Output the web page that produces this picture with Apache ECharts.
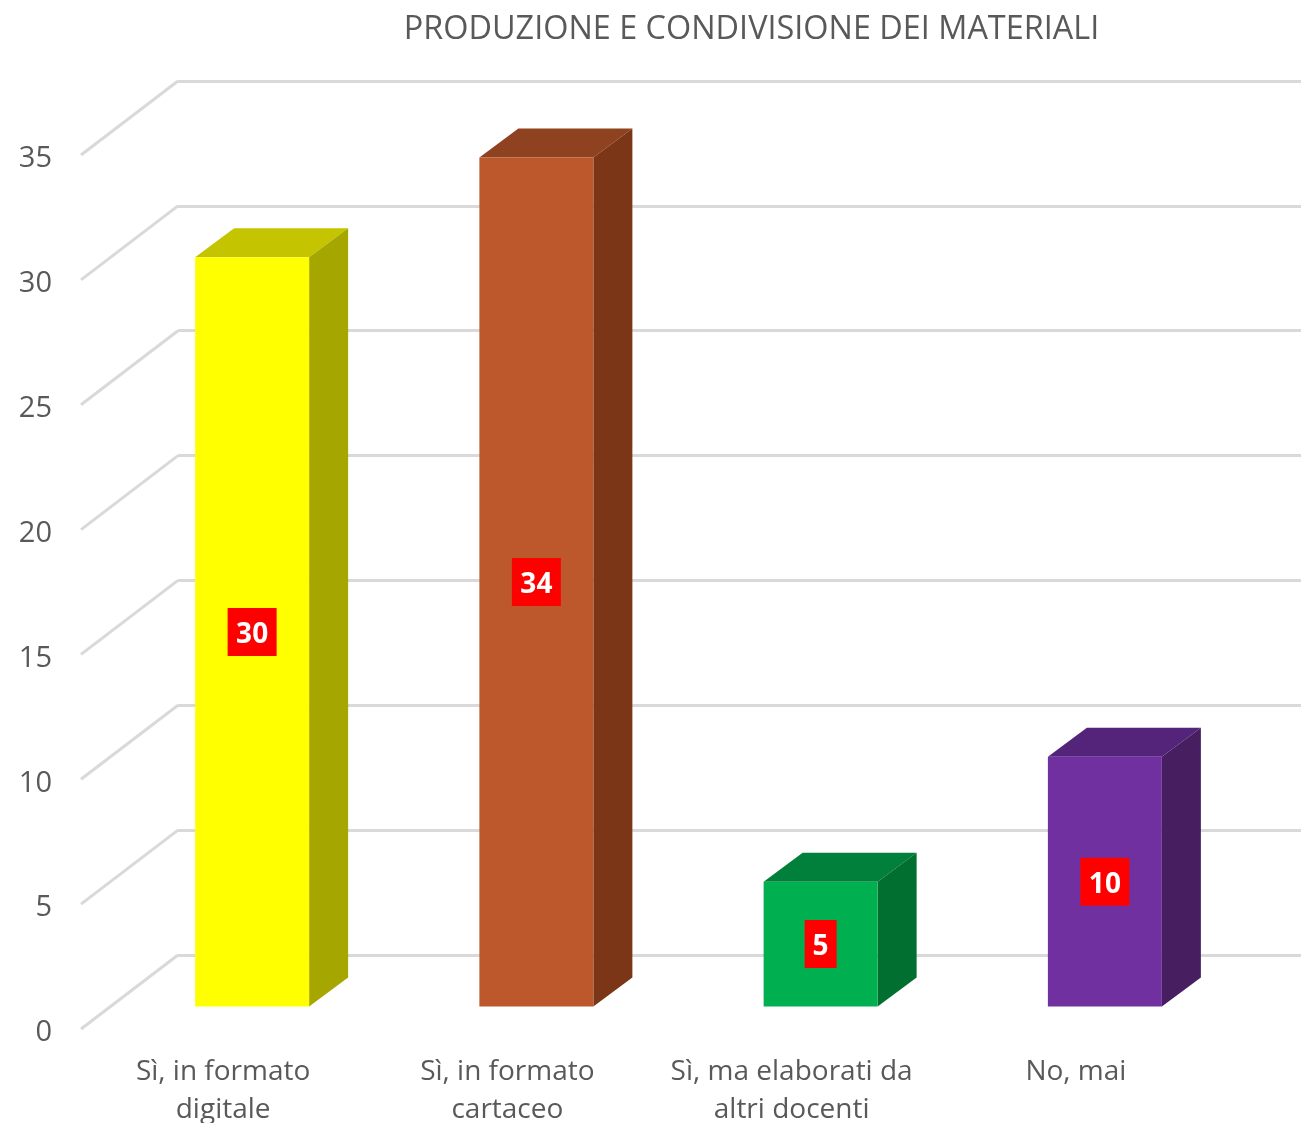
<!DOCTYPE html>
<html>
<head>
<meta charset="utf-8">
<style>
  html, body { margin: 0; padding: 0; background: #fff; overflow: hidden; }
  #chart { width: 1301px; height: 1123px; }
</style>
<script src="https://cdn.jsdelivr.net/npm/echarts@6/dist/echarts.min.js"></script>
</head>
<body>
<div id="chart"></div>
<script>
var categories = ['Sì, in formato\ndigitale', 'Sì, in formato\ncartaceo', 'Sì, ma elaborati da\naltri docenti', 'No, mai'];
var values = [30, 34, 5, 10];
var yTicks = [0, 5, 10, 15, 20, 25, 30, 35];

// front, top, side colour of each bar
var frontColors = ['#ffff00', '#bc582b', '#00b050', '#7030a0'];
var topColors = ['#c4c400', '#8f421f', '#00803a', '#53247a'];
var sideColors = ['#a6a600', '#7b3618', '#006f30', '#471e60'];

var FONT = '"Open Sans", sans-serif';
var TEXT_COLOR = '#595959';
var LINE_COLOR = '#d9d9d9';

// fake 3d: how far the bars and the floor go back
var BAR_DEPTH_X = 39, BAR_DEPTH_Y = 29;
var WALL_DEPTH_X = 97, WALL_DEPTH_Y = 74;
var BAR_WIDTH = 114;

function poly(points, color) {
  return { type: 'polygon', shape: { points: points }, style: { fill: color } };
}

function renderBar(params, api) {
  var i = params.dataIndex;
  var top = api.coord([i, api.value(1)]);
  var base = api.coord([i, 0]);
  var mid = api.coord([i, api.value(1) / 2]);
  var l = top[0] - BAR_WIDTH / 2, r = top[0] + BAR_WIDTH / 2;
  var dx = BAR_DEPTH_X, dy = BAR_DEPTH_Y;
  var label = String(api.value(1));
  var boxW = 15 + 17 * label.length;
  return {
    type: 'group',
    children: [
      poly([[l, top[1]], [r, top[1]], [r + dx, top[1] - dy], [l + dx, top[1] - dy]], topColors[i]),
      poly([[r, top[1]], [r + dx, top[1] - dy], [r + dx, base[1] - dy], [r, base[1]]], sideColors[i]),
      poly([[l, top[1]], [r, top[1]], [r, base[1]], [l, base[1]]], frontColors[i]),
      {
        type: 'rect',
        shape: { x: mid[0] - boxW / 2, y: mid[1] - 24, width: boxW, height: 48 },
        style: { fill: '#ff0000' }
      },
      {
        type: 'text',
        x: mid[0],
        y: mid[1] + 3,
        style: {
          text: label,
          font: 'bold 28px ' + FONT,
          fill: '#fff',
          align: 'center',
          verticalAlign: 'middle'
        }
      }
    ]
  };
}

function renderWallLine(params, api) {
  var p = api.coord([0, api.value(1)]);
  var x0 = params.coordSys.x;
  return {
    type: 'line',
    shape: { x1: x0, y1: p[1], x2: x0 - WALL_DEPTH_X, y2: p[1] + WALL_DEPTH_Y },
    style: { stroke: LINE_COLOR, lineWidth: 3 }
  };
}

var chart = echarts.init(document.getElementById('chart'), null, { renderer: 'canvas' });

chart.setOption({
  animation: false,
  backgroundColor: '#fff',
  title: {
    text: 'PRODUZIONE E CONDIVISIONE DEI MATERIALI',
    left: 746.5,
    top: 9,
    textAlign: 'center',
    textStyle: { fontFamily: FONT, fontSize: 32.4, fontWeight: 'normal', color: TEXT_COLOR }
  },
  grid: [
    // back wall
    { left: 178, right: 0, top: 81, bottom: 168, outerBoundsMode: 'none' },
    // front edge, carries the labels
    { left: 81, right: 83, top: 159, bottom: 90, outerBoundsMode: 'none' },
    // plane the bars stand on
    { left: 110, right: 54, top: 132.5, bottom: 116.5, outerBoundsMode: 'none' }
  ],
  xAxis: [
    { gridIndex: 0, type: 'category', data: categories, show: false },
    {
      gridIndex: 1,
      type: 'category',
      data: categories,
      axisLine: { show: false },
      axisTick: { show: false },
      axisLabel: {
        interval: 0,
        margin: 20,
        fontFamily: FONT,
        fontSize: 28,
        lineHeight: 38,
        color: TEXT_COLOR
      }
    },
    { gridIndex: 2, type: 'category', data: categories, show: false }
  ],
  yAxis: [
    {
      gridIndex: 0,
      type: 'value',
      min: 0,
      max: 35,
      interval: 5,
      axisLine: { show: false },
      axisTick: { show: false },
      axisLabel: { show: false },
      splitLine: { show: true, lineStyle: { color: LINE_COLOR, width: 3 } }
    },
    {
      gridIndex: 1,
      type: 'value',
      min: 0,
      max: 35,
      interval: 5,
      axisLine: { show: false },
      axisTick: { show: false },
      splitLine: { show: false },
      axisLabel: { margin: 29, fontFamily: FONT, fontSize: 29, color: TEXT_COLOR }
    },
    { gridIndex: 2, type: 'value', min: 0, max: 35, interval: 5, show: false }
  ],
  series: [
    {
      type: 'custom',
      xAxisIndex: 0,
      yAxisIndex: 0,
      renderItem: renderWallLine,
      data: yTicks.map(function (t) { return [0, t]; }),
      encode: { x: 0, y: 1 },
      silent: true
    },
    {
      type: 'custom',
      xAxisIndex: 2,
      yAxisIndex: 2,
      renderItem: renderBar,
      data: values.map(function (v, i) { return [i, v]; }),
      encode: { x: 0, y: 1 },
      z: 5
    }
  ]
});
</script>
</body>
</html>
